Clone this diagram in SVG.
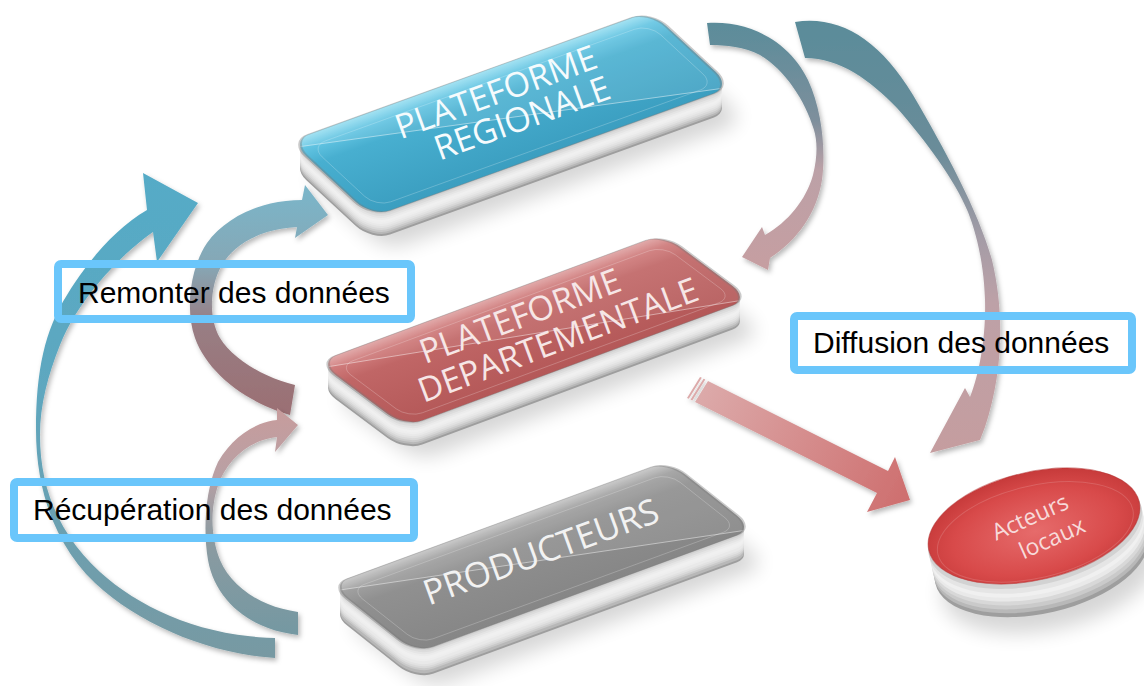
<svg xmlns="http://www.w3.org/2000/svg" width="1144" height="686" viewBox="0 0 1144 686">
<style>
.lbl{fill:none;stroke:#6ac6fb;stroke-width:8}
.lt{font-family:"Liberation Sans",Arial,sans-serif;font-size:30px;fill:#000}
.nt{font-family:"Open Sans","Noto Sans",sans-serif;font-size:34px;text-anchor:middle}
.at{font-family:"Open Sans","Noto Sans",sans-serif;font-size:23px;text-anchor:middle;fill:#f7dada}
.k12{fill:#9e9e9e}.k11{fill:#b8b8b8}.k10{fill:#cacaca}.k9{fill:#d8d8d8}.k8{fill:#e2e2e2}.k7{fill:#e9e9e9}
.k6{fill:#eeeeee}.k5{fill:#f0f0f0}.k4{fill:#ececec}.k3{fill:#e5e5e5}.k2{fill:#dcdcdc}.k1{fill:#d2d2d2}
.sh{fill:#000;opacity:.16;filter:url(#blur)}
.arr{filter:url(#ds)}
.edge{fill:none;stroke:#7a7a7a;stroke-opacity:.4}
.diag{stroke:#fff;stroke-opacity:.45}
.bev{fill:none;stroke:#fff;stroke-opacity:.22}
</style>
<defs>
  <rect id="slab" x="0" y="0" width="100" height="100" rx="5" ry="20"/>
  <clipPath id="slabClip"><rect x="0" y="0" width="100" height="100" rx="5" ry="20"/></clipPath>
  <g id="rimB">
    <use href="#slab" class="k12" transform="translate(0,24) matrix(3.6,-1.3,0.82,0.76,290,141)"/>
    <use href="#slab" class="k11" transform="translate(0,22) matrix(3.6,-1.3,0.82,0.76,290,141)"/>
    <use href="#slab" class="k10" transform="translate(0,20) matrix(3.6,-1.3,0.82,0.76,290,141)"/>
    <use href="#slab" class="k9" transform="translate(0,18) matrix(3.6,-1.3,0.82,0.76,290,141)"/>
    <use href="#slab" class="k8" transform="translate(0,16) matrix(3.6,-1.3,0.82,0.76,290,141)"/>
    <use href="#slab" class="k7" transform="translate(0,14) matrix(3.6,-1.3,0.82,0.76,290,141)"/>
    <use href="#slab" class="k6" transform="translate(0,12) matrix(3.6,-1.3,0.82,0.76,290,141)"/>
    <use href="#slab" class="k5" transform="translate(0,10) matrix(3.6,-1.3,0.82,0.76,290,141)"/>
    <use href="#slab" class="k4" transform="translate(0,8) matrix(3.6,-1.3,0.82,0.76,290,141)"/>
    <use href="#slab" class="k3" transform="translate(0,6) matrix(3.6,-1.3,0.82,0.76,290,141)"/>
    <use href="#slab" class="k2" transform="translate(0,4) matrix(3.6,-1.3,0.82,0.76,290,141)"/>
    <use href="#slab" class="k1" transform="translate(0,2) matrix(3.6,-1.3,0.82,0.76,290,141)"/>
  </g>
  <g id="rimR">
    <use href="#slab" class="k12" transform="translate(0,24) matrix(3.45,-1.28,0.87,0.65,318,362)"/>
    <use href="#slab" class="k11" transform="translate(0,22) matrix(3.45,-1.28,0.87,0.65,318,362)"/>
    <use href="#slab" class="k10" transform="translate(0,20) matrix(3.45,-1.28,0.87,0.65,318,362)"/>
    <use href="#slab" class="k9" transform="translate(0,18) matrix(3.45,-1.28,0.87,0.65,318,362)"/>
    <use href="#slab" class="k8" transform="translate(0,16) matrix(3.45,-1.28,0.87,0.65,318,362)"/>
    <use href="#slab" class="k7" transform="translate(0,14) matrix(3.45,-1.28,0.87,0.65,318,362)"/>
    <use href="#slab" class="k6" transform="translate(0,12) matrix(3.45,-1.28,0.87,0.65,318,362)"/>
    <use href="#slab" class="k5" transform="translate(0,10) matrix(3.45,-1.28,0.87,0.65,318,362)"/>
    <use href="#slab" class="k4" transform="translate(0,8) matrix(3.45,-1.28,0.87,0.65,318,362)"/>
    <use href="#slab" class="k3" transform="translate(0,6) matrix(3.45,-1.28,0.87,0.65,318,362)"/>
    <use href="#slab" class="k2" transform="translate(0,4) matrix(3.45,-1.28,0.87,0.65,318,362)"/>
    <use href="#slab" class="k1" transform="translate(0,2) matrix(3.45,-1.28,0.87,0.65,318,362)"/>
  </g>
  <g id="rimG">
    <use href="#slab" class="k12" transform="translate(0,27) matrix(3.38,-1.24,0.86,0.68,330,585)"/>
    <use href="#slab" class="k11" transform="translate(0,25) matrix(3.38,-1.24,0.86,0.68,330,585)"/>
    <use href="#slab" class="k10" transform="translate(0,22) matrix(3.38,-1.24,0.86,0.68,330,585)"/>
    <use href="#slab" class="k9" transform="translate(0,20) matrix(3.38,-1.24,0.86,0.68,330,585)"/>
    <use href="#slab" class="k8" transform="translate(0,18) matrix(3.38,-1.24,0.86,0.68,330,585)"/>
    <use href="#slab" class="k7" transform="translate(0,16) matrix(3.38,-1.24,0.86,0.68,330,585)"/>
    <use href="#slab" class="k6" transform="translate(0,13) matrix(3.38,-1.24,0.86,0.68,330,585)"/>
    <use href="#slab" class="k5" transform="translate(0,11) matrix(3.38,-1.24,0.86,0.68,330,585)"/>
    <use href="#slab" class="k4" transform="translate(0,8) matrix(3.38,-1.24,0.86,0.68,330,585)"/>
    <use href="#slab" class="k3" transform="translate(0,6) matrix(3.38,-1.24,0.86,0.68,330,585)"/>
    <use href="#slab" class="k2" transform="translate(0,4) matrix(3.38,-1.24,0.86,0.68,330,585)"/>
    <use href="#slab" class="k1" transform="translate(0,2) matrix(3.38,-1.24,0.86,0.68,330,585)"/>
  </g>
  <filter id="blur" x="-20%" y="-30%" width="140%" height="160%"><feGaussianBlur stdDeviation="10"/></filter>
  <filter id="ds" x="-10%" y="-10%" width="130%" height="130%"><feDropShadow dx="2" dy="3" stdDeviation="2.5" flood-color="#000" flood-opacity=".28"/></filter>
  <linearGradient id="fBlue" x1="0" y1="0" x2="0" y2="1">
    <stop offset="0" stop-color="#9be0f2"/><stop offset=".12" stop-color="#62c4e2"/><stop offset=".3" stop-color="#48afd0"/><stop offset="1" stop-color="#3b9ec0"/>
  </linearGradient>
  <linearGradient id="fRed" x1="0" y1="0" x2="0" y2="1">
    <stop offset="0" stop-color="#e0a4a4"/><stop offset=".12" stop-color="#cf7b7b"/><stop offset=".3" stop-color="#c06666"/><stop offset="1" stop-color="#b45858"/>
  </linearGradient>
  <linearGradient id="fGrey" x1="0" y1="0" x2="0" y2="1">
    <stop offset="0" stop-color="#c6c6c6"/><stop offset=".12" stop-color="#a0a0a0"/><stop offset=".3" stop-color="#909090"/><stop offset="1" stop-color="#868686"/>
  </linearGradient>
  <radialGradient id="fDisk" cx=".5" cy=".55" r=".55">
    <stop offset="0" stop-color="#e66b6b"/><stop offset=".7" stop-color="#d84a4a"/><stop offset="1" stop-color="#c63a3a"/>
  </radialGradient>
  <linearGradient id="gA" gradientUnits="userSpaceOnUse" x1="0" y1="170" x2="0" y2="660">
    <stop offset="0" stop-color="#55abc7"/><stop offset=".45" stop-color="#5ea7bf"/><stop offset="1" stop-color="#7899a2"/>
  </linearGradient>
  <linearGradient id="gB" gradientUnits="userSpaceOnUse" x1="0" y1="185" x2="0" y2="415">
    <stop offset="0" stop-color="#7ab6ca"/><stop offset=".35" stop-color="#86a7b5"/><stop offset=".6" stop-color="#987e84"/><stop offset="1" stop-color="#9b6f73"/>
  </linearGradient>
  <linearGradient id="gC" gradientUnits="userSpaceOnUse" x1="0" y1="405" x2="0" y2="640">
    <stop offset="0" stop-color="#c89c9c"/><stop offset=".3" stop-color="#b9a0a4"/><stop offset=".55" stop-color="#8d9ba1"/><stop offset="1" stop-color="#7398a2"/>
  </linearGradient>
  <linearGradient id="gD" gradientUnits="userSpaceOnUse" x1="0" y1="20" x2="0" y2="270">
    <stop offset="0" stop-color="#5a8c9a"/><stop offset=".4" stop-color="#7d8f9c"/><stop offset=".6" stop-color="#bca1a7"/><stop offset="1" stop-color="#c69ea1"/>
  </linearGradient>
  <linearGradient id="gE" gradientUnits="userSpaceOnUse" x1="0" y1="20" x2="0" y2="455">
    <stop offset="0" stop-color="#5a8c9a"/><stop offset=".3" stop-color="#6a8c99"/><stop offset=".5" stop-color="#a49ca6"/><stop offset=".65" stop-color="#bda1a7"/><stop offset="1" stop-color="#c59d9f"/>
  </linearGradient>
  <linearGradient id="gF" gradientUnits="userSpaceOnUse" x1="700" y1="390" x2="910" y2="500">
    <stop offset="0" stop-color="#dcaaaa"/><stop offset="1" stop-color="#ce6e6e"/>
  </linearGradient>
</defs>
<rect width="1144" height="686" fill="#fff"/>

<g id="node-regionale">
  <g class="sh"><use href="#slab" transform="translate(14,34) matrix(3.6,-1.3,0.82,0.76,290,141)"/></g>
  <use href="#rimB"/>
  <g transform="matrix(3.6,-1.3,0.82,0.76,290,141)">
    <use href="#slab" fill="url(#fBlue)"/>
    <polygon points="0,8 0,0 100,0 100,100" fill="#fff" opacity=".1" clip-path="url(#slabClip)"/>
    <line x1="0" y1="8" x2="100" y2="100" class="diag" vector-effect="non-scaling-stroke" clip-path="url(#slabClip)"/>
    <rect x="3" y="12" width="94" height="80" rx="4" ry="14" class="bev" vector-effect="non-scaling-stroke"/>
    <use href="#slab" class="edge" vector-effect="non-scaling-stroke"/>
  </g>
  <text class="nt" fill="#f5fbfd" transform="rotate(-20 496 92)" x="496" y="104">PLATEFORME</text>
  <text class="nt" fill="#f5fbfd" transform="rotate(-20 522 118)" x="522" y="130">REGIONALE</text>
</g>

<g id="node-departementale">
  <g class="sh"><use href="#slab" transform="translate(14,34) matrix(3.45,-1.28,0.87,0.65,318,362)"/></g>
  <use href="#rimR"/>
  <g transform="matrix(3.45,-1.28,0.87,0.65,318,362)">
    <use href="#slab" fill="url(#fRed)"/>
    <polygon points="0,8 0,0 100,0 100,100" fill="#fff" opacity=".08" clip-path="url(#slabClip)"/>
    <line x1="0" y1="8" x2="100" y2="100" class="diag" vector-effect="non-scaling-stroke" clip-path="url(#slabClip)"/>
    <rect x="3" y="12" width="94" height="80" rx="4" ry="14" class="bev" vector-effect="non-scaling-stroke"/>
    <use href="#slab" class="edge" vector-effect="non-scaling-stroke"/>
  </g>
  <text class="nt" fill="#f6e6e6" transform="rotate(-20.5 520 316)" x="520" y="328">PLATEFORME</text>
  <text class="nt" fill="#f6e6e6" transform="rotate(-20.5 558 340)" x="558" y="352">DEPARTEMENTALE</text>
</g>

<g id="node-producteurs">
  <g class="sh"><use href="#slab" transform="translate(14,36) matrix(3.38,-1.24,0.86,0.68,330,585)"/></g>
  <use href="#rimG"/>
  <g transform="matrix(3.38,-1.24,0.86,0.68,330,585)">
    <use href="#slab" fill="url(#fGrey)"/>
    <polygon points="0,8 0,0 100,0 100,100" fill="#fff" opacity=".08" clip-path="url(#slabClip)"/>
    <line x1="0" y1="8" x2="100" y2="100" class="diag" vector-effect="non-scaling-stroke" clip-path="url(#slabClip)"/>
    <rect x="3" y="12" width="94" height="80" rx="4" ry="14" class="bev" vector-effect="non-scaling-stroke"/>
    <use href="#slab" class="edge" vector-effect="non-scaling-stroke"/>
  </g>
  <text class="nt" fill="#f2f2f2" transform="rotate(-20 541 552)" x="541" y="564" style="font-size:35px">PRODUCTEURS</text>
</g>

<g id="node-acteurs">
  <ellipse cx="1050" cy="575" rx="110" ry="54" transform="rotate(-13 1050 575)" class="sh"/>
  <g transform="rotate(-13 1034 526)">
    <ellipse cx="1034" cy="560" rx="109" ry="54" class="k12"/>
    <ellipse cx="1034" cy="556" rx="109" ry="54" class="k11"/>
    <ellipse cx="1034" cy="552" rx="109" ry="54" class="k10"/>
    <ellipse cx="1034" cy="548" rx="109" ry="54" class="k9"/>
    <ellipse cx="1034" cy="544" rx="109" ry="54" class="k7"/>
    <ellipse cx="1034" cy="540" rx="109" ry="54" class="k5"/>
    <ellipse cx="1034" cy="536" rx="109" ry="54" class="k3"/>
    <ellipse cx="1034" cy="531" rx="109" ry="54" class="k1"/>
    <ellipse cx="1034" cy="526" rx="108" ry="54" fill="url(#fDisk)" stroke="#b03030" stroke-opacity=".5"/>
    <ellipse cx="1034" cy="532" rx="100" ry="46" fill="none" stroke="#fff" stroke-opacity=".15"/>
  </g>
  <text class="at" transform="rotate(-24 1030 517)" x="1030" y="525">Acteurs</text>
  <text class="at" transform="rotate(-24 1052 538)" x="1052" y="546">locaux</text>
</g>

<g id="connectors">
  <path class="arr" fill="url(#gA)" d="M275,658 C210,654 140,625 95,583 C55,545 36,490 36,430 C36,370 45,330 67,295 C85,265 115,228 147,210 L143,173 L198,203 L157,262 L153,232 C120,255 78,300 60,345 C48,375 40,405 40,435 C40,490 60,535 100,572 C140,608 200,636 275,638 Z"/>
  <path class="arr" fill="url(#gB)" d="M302,200 C260,200 225,218 207,243 C190,268 185,310 195,338 C207,372 245,402 290,415 L295,385 C262,377 232,358 220,338 C208,318 210,285 222,265 C235,243 262,229 297,227 L295,238 L328,215 L305,185 Z"/>
  <path class="arr" fill="url(#gC)" d="M277,420 C255,422 232,438 218,462 C205,490 203,530 208,560 C215,600 250,630 298,635 L298,612 C262,607 232,588 220,560 C210,535 210,505 220,480 C232,455 252,440 277,437 L275,452 L298,425 L277,408 Z"/>
  <path class="arr" fill="url(#gD)" d="M707,23 C750,20 790,42 808,80 C822,110 826,150 822,180 C817,212 798,240 770,258 L768,270 L742,257 L762,227 L765,235 C788,222 806,200 813,175 C818,155 817,140 814,130 C805,100 785,70 760,55 C745,47 725,45 710,45 Z"/>
  <path class="arr" fill="url(#gE)" d="M795,22 C840,15 880,40 913,95 C945,150 978,210 992,260 C1004,310 1004,370 985,427 L980,440 L930,453 L965,388 L970,397 C980,372 986,335 985,300 C984,265 977,235 968,212 C955,180 925,140 897,108 C870,80 840,58 805,58 Z"/>
  <g class="arr">
    <path fill="url(#gF)" d="M708,381 L888,471 L895,457 L910,500 L867,512 L877,493 L695,402 Z"/>
    <polygon fill="#dcaaaa" points="703.5,378.7 705.3,379.6 692.3,400.6 690.5,399.7"/>
    <polygon fill="#dcaaaa" points="700,377 701.8,377.8 688.8,398.8 687,397.9"/>
  </g>
</g>

<g id="label-remonter">
  <rect class="lbl" x="58" y="264" width="353" height="55" rx="3"/>
  <text class="lt" x="78" y="303">Remonter des données</text>
</g>
<g id="label-recuperation">
  <rect class="lbl" x="14" y="482" width="400" height="56" rx="3"/>
  <text class="lt" x="33" y="520">Récupération des données</text>
</g>
<g id="label-diffusion">
  <rect class="lbl" x="794" y="316" width="338" height="54" rx="3"/>
  <text class="lt" x="813" y="353">Diffusion des données</text>
</g>
</svg>
